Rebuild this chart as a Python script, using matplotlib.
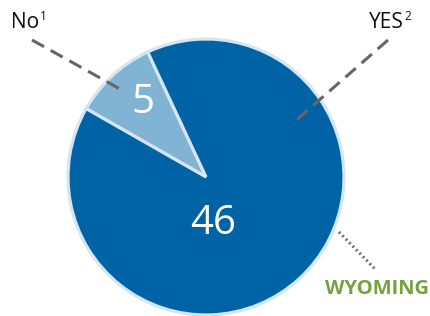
import matplotlib
matplotlib.use("Agg")
import matplotlib.pyplot as plt

# data
labels = ["No", "YES"]
label_notes = ["1", "2"]
values = [5, 46]
colors = ["#80b3d4", "#0063a5"]
state = "WYOMING"

W, H = 431, 316


def P(x, y):
    # pixel coords (y down) -> data coords (y up)
    return x, H - y


plt.rcParams["font.family"] = ["Open Sans", "DejaVu Sans"]

fig = plt.figure(figsize=(W / 100, H / 100), dpi=100)
ax = fig.add_axes([0, 0, 1, 1])

ax.pie(values, colors=colors, startangle=115, counterclock=True,
       center=P(206, 177), radius=138,
       wedgeprops=dict(edgecolor="#d5e6f3", linewidth=2.3))
ax.set_xlim(0, W)
ax.set_ylim(0, H)
ax.set_aspect("equal")
ax.axis("off")

# values inside slices
ax.text(*P(143, 103), str(values[0]), color="white", fontsize=29,
        ha="center", va="center")
ax.text(*P(213, 224), str(values[1]), color="white", fontsize=29,
        ha="center", va="center")

# leader lines
ax.plot(*zip(P(32, 40), P(120, 89)), color="#666666", lw=2.2,
        dashes=(4.5, 2.5), solid_capstyle="butt")
ax.plot(*zip(P(388, 40), P(293, 123)), color="#666666", lw=2.2,
        dashes=(4.5, 2.5), solid_capstyle="butt")
ax.plot(*zip(P(339, 232), P(375, 269)), color="#666666", lw=2.2,
        linestyle=(0, (0.6, 1.0)))

# category labels with superscript notes
t_no = ax.text(*P(11, 28), labels[0], fontsize=15, ha="left",
               va="baseline", color="#111111")
ax.annotate(label_notes[0], xy=(1, 1), xycoords=t_no, xytext=(0.3, 1.5),
            textcoords="offset points", fontsize=8.5, va="top", ha="left",
            color="#111111")
t_yes = ax.text(*P(369, 28), labels[1], fontsize=15, ha="left",
                va="baseline", color="#111111")
ax.annotate(label_notes[1], xy=(1, 1), xycoords=t_yes, xytext=(0.3, 1.5),
            textcoords="offset points", fontsize=8.5, va="top", ha="left",
            color="#111111")

ax.text(*P(325, 294), state, fontsize=14.5, fontweight="bold",
        color="#74a23f", ha="left", va="baseline")

fig.savefig("out.png", dpi=100)
